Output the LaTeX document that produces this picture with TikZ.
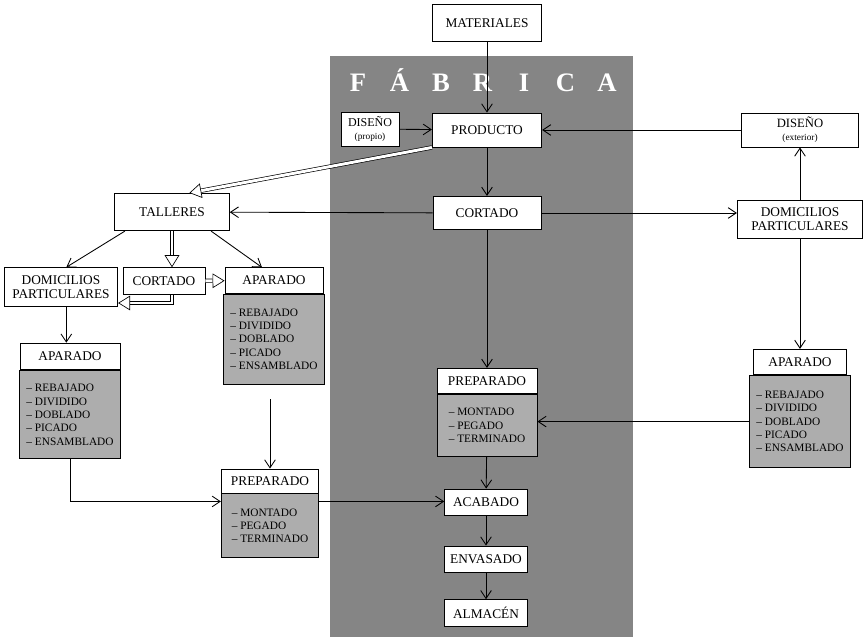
\documentclass[tikz,border=0pt]{standalone}
\usepackage{fontspec}
\setmainfont{Liberation Serif}
\usetikzlibrary{arrows.meta,positioning}

\tikzset{
  caja/.style={draw, fill=white, inner sep=1pt, align=center,
    font=\fontsize{10}{11}\selectfont},
  cabecera/.style={caja, minimum height=19pt},
  lista/.style={draw, fill=black!32, anchor=north, align=left, inner xsep=5pt,
    font=\fontsize{8.5}{10}\selectfont},
  flecha/.style={-{Straight Barb[length=6pt,width=8pt]}},
  hueca/.style={double, double distance=2.2pt, line width=0.5pt,
    -{Triangle[length=9pt,width=11pt,fill=white]}},
  letra/.style={text=white, anchor=base, font=\fontsize{20}{20}\selectfont\bfseries}
}

\begin{document}
\begin{tikzpicture}[x=0.75pt,y=-0.75pt,line width=0.65pt]
  \useasboundingbox (0,0) rectangle (863,637);

  % Banda de la fábrica
  \fill[black!48] (330,56) rectangle (633,637);
  \foreach \l [count=\i] in {F,Á,B,R,I,C,A}
    \node[letra] at ({358+41.5*(\i-1)},91) {\l};

  % Columna central
  \node[caja, minimum width=82pt, minimum height=28pt] (mat) at (487,23) {MATERIALES};
  \node[caja, minimum width=82pt, minimum height=25.5pt] (prod) at (487,130) {PRODUCTO};
  \node[caja, minimum width=43.5pt, minimum height=25.5pt] (disP) at (370,129)
    {\fontsize{9}{9}\selectfont DISEÑO\\[-1pt]\fontsize{7}{8}\selectfont (propio)};
  \node[caja, minimum width=81pt, minimum height=25pt] (cortC) at (487,213) {CORTADO};
  \node[cabecera, minimum width=75pt] (prepC) at (487,381) {PREPARADO};
  \node[lista, minimum width=75pt, minimum height=46.5pt] (prepCb) at (prepC.south)
    {-- MONTADO\\-- PEGADO\\-- TERMINADO};
  \node[caja, minimum width=62pt, minimum height=19.5pt] (acab) at (486,502) {ACABADO};
  \node[caja, minimum width=62pt, minimum height=19.5pt] (envas) at (486,559) {ENVASADO};
  \node[caja, minimum width=62pt, minimum height=20pt] (almac) at (486,613) {ALMACÉN};

  % Lado derecho
  \node[caja, minimum width=88pt, minimum height=25.5pt] (disE) at (800,130)
    {\fontsize{9.5}{9.5}\selectfont DISEÑO\\[-1pt]\fontsize{7}{8}\selectfont (exterior)};
  \node[caja, minimum width=94pt, minimum height=28.5pt] (domD) at (800,219)
    {DOMICILIOS\\PARTICULARES};
  \node[cabecera, minimum width=70pt] (aparD) at (800,362) {APARADO};
  \node[lista, minimum width=70pt, minimum height=69pt] (aparDb) at (aparD.south)
    {-- REBAJADO\\-- DIVIDIDO\\-- DOBLADO\\-- PICADO\\-- ENSAMBLADO};

  % Lado izquierdo
  \node[caja, minimum width=86pt, minimum height=28pt] (tall) at (172,212) {TALLERES};
  \node[caja, minimum width=85pt, minimum height=29pt] (domI) at (61,287)
    {DOMICILIOS\\PARTICULARES};
  \node[caja, minimum width=61.5pt, minimum height=20pt] (cortI) at (164,281) {CORTADO};
  \node[cabecera, minimum width=73.5pt] (aparA) at (274,280.5) {APARADO};
  \node[lista, minimum width=73.5pt, minimum height=67.5pt] (aparAb) at (aparA.south)
    {-- REBAJADO\\-- DIVIDIDO\\-- DOBLADO\\-- PICADO\\-- ENSAMBLADO};
  \node[cabecera, minimum width=75pt, minimum height=20pt] (aparB) at (70,356.5) {APARADO};
  \node[lista, minimum width=75pt, minimum height=66pt] (aparBb) at (aparB.south)
    {-- REBAJADO\\-- DIVIDIDO\\-- DOBLADO\\-- PICADO\\-- ENSAMBLADO};
  \node[cabecera, minimum width=73pt, minimum height=18pt] (prepI) at (270,481) {PREPARADO};
  \node[lista, minimum width=73pt, minimum height=48pt] (prepIb) at (prepI.south)
    {-- MONTADO\\-- PEGADO\\-- TERMINADO};

  % Puntos auxiliares
  \coordinate (ent) at ([yshift=-6pt]prepI.south west);
  \coordinate (salA) at ([yshift=-11pt]aparAb.south);

  % Flechas de la fábrica
  \draw[flecha] (mat) -- (prod);
  \draw[flecha] (disP) -- (prod);
  \draw[flecha] (disE) -- (prod);
  \draw[flecha] (prod) -- (cortC);
  \draw[flecha] (cortC) -- (prepC);
  \draw[flecha] (prepCb) -- (acab);
  \draw[flecha] (acab) -- (envas);
  \draw[flecha] (envas) -- (almac);

  % Hacia fuera
  \draw[hueca] (prod.south west) -- ([xshift=13pt]tall.north);
  \draw[flecha] (cortC) -- (tall);
  \draw[flecha] (cortC.east) -- (cortC.east -| domD.west);
  \draw[flecha] (domD) -- (disE);
  \draw[flecha] (domD) -- (aparD);
  \draw[flecha] (aparDb.west) -- (aparDb.west -| prepCb.east);

  % Talleres y domicilios
  \draw[flecha] ([xshift=8pt]tall.south west) -- ([xshift=4pt]domI.north);
  \draw[hueca] (tall.south) -- (tall.south |- cortI.north);
  \draw[flecha] ([xshift=-14pt]tall.south east) -- ([xshift=-9pt]aparA.north);
  \draw[hueca] (cortI) -- (aparA);
  \draw[hueca] (tall.south |- cortI.south) |- ([yshift=-12pt]domI.east);
  \draw[flecha] ([xshift=4pt]domI.south) -- ([xshift=4pt]domI.south |- aparB.north);
  \draw[flecha] (salA -| prepI.north) -- (prepI.north);
  \draw[flecha] (aparBb.south) |- (ent);
  \draw[flecha] (ent -| prepIb.east) -- (ent -| acab.west);
\end{tikzpicture}
\end{document}
